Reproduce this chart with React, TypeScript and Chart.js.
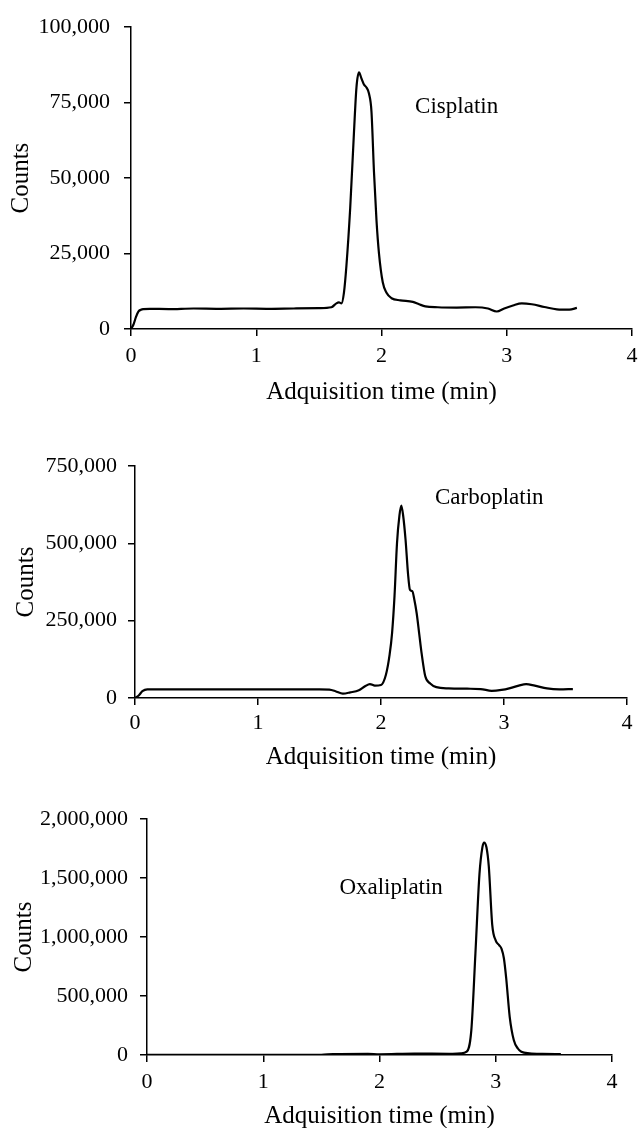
import React, { useEffect, useRef } from "react";
import { Chart, registerables } from "chart.js";

Chart.register(...registerables);

const FONT = '"Liberation Serif", "Times New Roman", Times, serif';

// ---------- data ----------
const xTickValues = [0, 1, 2, 3, 4];
const xAxisTitle = "Adquisition time (min)";
const yAxisTitle = "Counts";

const cisplatinTime = [0, 0.02, 0.04, 0.06, 0.08, 0.1, 0.15, 0.3, 0.5, 0.7, 0.9, 1.1, 1.3, 1.5, 1.6, 1.64, 1.66, 1.68, 1.7, 1.72, 1.75, 1.78, 1.8, 1.82, 1.84, 1.86, 1.88, 1.9, 1.92, 1.94, 1.96, 1.98, 2.01, 2.04, 2.08, 2.15, 2.25, 2.3, 2.35, 2.45, 2.6, 2.75, 2.85, 2.92, 2.98, 3.05, 3.12, 3.2, 3.3, 3.4, 3.5, 3.56];
const cisplatinCounts = [0, 1500, 4000, 5800, 6400, 6600, 6700, 6600, 6800, 6700, 6800, 6700, 6800, 6900, 7200, 8500, 8800, 8500, 12000, 21000, 40000, 65000, 80000, 85000, 83000, 81000, 80000, 78000, 72000, 52000, 36000, 25000, 15500, 12000, 10200, 9500, 9000, 8200, 7500, 7200, 7100, 7200, 6800, 5800, 6800, 7800, 8500, 8200, 7300, 6500, 6400, 7000];
const cisplatinTicks = [0, 25000, 50000, 75000, 100000];
const cisplatinLabel = { text: "Cisplatin", time: 2.6, counts: 73500 };

const carboplatinTime = [0, 0.03, 0.06, 0.1, 0.3, 0.6, 0.9, 1.2, 1.5, 1.58, 1.63, 1.69, 1.75, 1.82, 1.87, 1.91, 1.95, 2.0, 2.04, 2.07, 2.09, 2.11, 2.13, 2.15, 2.165, 2.18, 2.2, 2.22, 2.235, 2.255, 2.27, 2.29, 2.31, 2.33, 2.36, 2.4, 2.45, 2.55, 2.7, 2.81, 2.9, 2.98, 3.05, 3.12, 3.18, 3.25, 3.35, 3.45, 3.56];
const carboplatinCounts = [0, 8000, 22000, 28000, 28000, 28000, 28000, 28000, 28000, 27000, 22000, 14000, 18000, 25000, 38000, 45000, 40000, 42000, 75000, 140000, 210000, 330000, 500000, 590000, 622000, 590000, 510000, 400000, 350000, 345000, 320000, 274000, 210000, 145000, 70000, 47000, 35000, 31000, 30000, 29000, 23000, 26000, 32000, 40000, 45000, 40000, 31000, 28000, 29000];
const carboplatinTicks = [0, 250000, 500000, 750000];
const carboplatinLabel = { text: "Carboplatin", time: 2.88, counts: 647000 };

const oxaliplatinTime = [0, 0.5, 1.0, 1.5, 1.6, 1.9, 2.0, 2.3, 2.6, 2.7, 2.75, 2.79, 2.825, 2.86, 2.885, 2.9, 2.92, 2.94, 2.97, 3.0, 3.03, 3.05, 3.07, 3.09, 3.12, 3.155, 3.19, 3.22, 3.29, 3.4, 3.56];
const oxaliplatinCounts = [2000, 2000, 2000, 2000, 8000, 10000, 6000, 12000, 10000, 14000, 28000, 211000, 859000, 1535000, 1760000, 1800000, 1760000, 1600000, 1100000, 970000, 930000, 900000, 820000, 650000, 324000, 127000, 55000, 28000, 14000, 9000, 8000];
const oxaliplatinTicks = [0, 500000, 1000000, 1500000, 2000000];
const oxaliplatinLabel = { text: "Oxaliplatin", time: 2.1, counts: 1415000 };

// ---------- layout / style ----------
const panels = [
  { time: cisplatinTime, counts: cisplatinCounts, ticks: cisplatinTicks, label: cisplatinLabel,
    top: 0, height: 410, padTop: 23, padRight: 6, yWidth: 131, xHeight: 81, yTickPad: 14, xTickPad: 7, yTitlePad: 6, xTitlePad: 2.3 },
  { time: carboplatinTime, counts: carboplatinCounts, ticks: carboplatinTicks, label: carboplatinLabel,
    top: 410, height: 365, padTop: 56, padRight: 11, yWidth: 135, xHeight: 77, yTickPad: 11, xTickPad: 5, yTitlePad: 11, xTitlePad: 2.3 },
  { time: oxaliplatinTime, counts: oxaliplatinCounts, ticks: oxaliplatinTicks, label: oxaliplatinLabel,
    top: 775, height: 360, padTop: 44, padRight: 26, yWidth: 147, xHeight: 80, yTickPad: 12, xTickPad: 7, yTitlePad: 9, xTitlePad: 3.3 },
];

const peakLabelPlugin = {
  id: "peakLabel",
  afterDatasetsDraw(chart: any, _args: any, opts: any) {
    const { ctx, scales } = chart;
    ctx.save();
    ctx.font = `23px ${FONT}`;
    ctx.fillStyle = "#000";
    ctx.textAlign = "center";
    ctx.textBaseline = "middle";
    ctx.fillText(opts.text, scales.x.getPixelForValue(opts.time), scales.y.getPixelForValue(opts.counts));
    ctx.restore();
  },
};

function Panel({ p }: { p: any }) {
  const ref = useRef<HTMLCanvasElement>(null);
  useEffect(() => {
    if (!ref.current) return;
    const points = p.time.map((t: number, i: number) => ({ x: t, y: p.counts[i] }));
    const yMax = p.ticks[p.ticks.length - 1];
    const chart = new Chart(ref.current, {
      type: "line",
      data: {
        datasets: [
          {
            data: points,
            borderColor: "#000",
            borderWidth: 2.2,
            pointRadius: 0,
            fill: false,
            cubicInterpolationMode: "monotone",
          },
        ],
      },
      plugins: [peakLabelPlugin],
      options: {
        animation: false,
        responsive: false,
        devicePixelRatio: 1,
        layout: { padding: { top: p.padTop, right: p.padRight, left: 0, bottom: 0 } },
        plugins: {
          legend: { display: false },
          tooltip: { enabled: false },
          peakLabel: p.label,
        } as any,
        scales: {
          x: {
            type: "linear",
            min: 0,
            max: 4,
            afterBuildTicks: (s: any) => { s.ticks = xTickValues.map((v) => ({ value: v })); },
            afterFit: (s: any) => { s.height = p.xHeight; s.paddingLeft = 0; s.paddingRight = 0; },
            ticks: { color: "#000", font: { family: FONT, size: 22 }, padding: p.xTickPad, maxRotation: 0 },
            grid: { drawOnChartArea: false, drawTicks: true, tickLength: 7, color: "#000", lineWidth: 1.5 },
            border: { display: true, color: "#000", width: 1.5 },
            title: { display: true, text: xAxisTitle, color: "#000", font: { family: FONT, size: 25 }, padding: { top: 0, bottom: p.xTitlePad } },
          },
          y: {
            type: "linear",
            min: 0,
            max: yMax,
            afterBuildTicks: (s: any) => { s.ticks = p.ticks.map((v: number) => ({ value: v })); },
            afterFit: (s: any) => { s.width = p.yWidth; },
            ticks: {
              color: "#000",
              font: { family: FONT, size: 22 },
              padding: p.yTickPad,
              callback: (v: any) => Number(v).toLocaleString("en-US"),
            },
            grid: { drawOnChartArea: false, drawTicks: true, tickLength: 7, color: "#000", lineWidth: 1.5 },
            border: { display: true, color: "#000", width: 1.5 },
            title: { display: true, text: yAxisTitle, color: "#000", font: { family: FONT, size: 25 }, padding: { top: p.yTitlePad, bottom: 0 } },
          },
        },
      },
    });
    return () => chart.destroy();
  }, [p]);
  return (
    <div style={{ position: "absolute", left: 0, top: p.top, width: 638, height: p.height }}>
      <canvas ref={ref} width={638} height={p.height} style={{ display: "block" }} />
    </div>
  );
}

export default function App() {
  return (
    <div style={{ position: "absolute", left: 0, top: 0, width: 638, height: 1128, overflow: "hidden", background: "#fff" }}>
      {panels.map((p, i) => (
        <Panel key={i} p={p} />
      ))}
    </div>
  );
}
